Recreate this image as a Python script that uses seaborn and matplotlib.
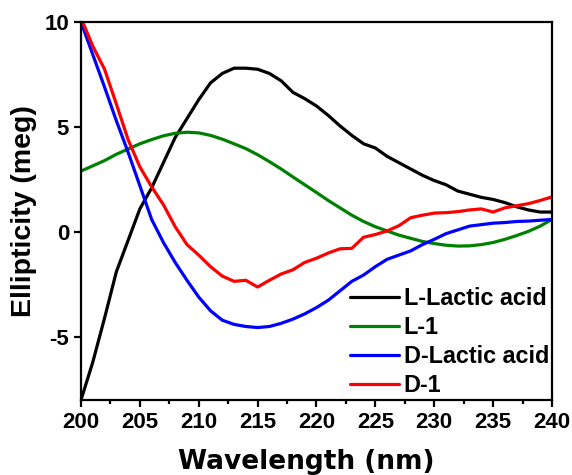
import matplotlib
matplotlib.use("Agg")
import matplotlib.pyplot as plt
from matplotlib.ticker import MultipleLocator
import pandas as pd
import seaborn as sns

wavelength = list(range(200, 241))

l_lactic = [-8.0, -6.2, -4.1, -1.9, -0.4, 1.1, 2.1, 3.3, 4.5, 5.4,
            6.3, 7.1, 7.55, 7.8, 7.8, 7.75, 7.55, 7.2, 6.65, 6.35,
            6.0, 5.55, 5.05, 4.6, 4.2, 4.0, 3.6, 3.3, 3.0, 2.7,
            2.45, 2.25, 1.95, 1.8, 1.65, 1.55, 1.4, 1.2, 1.05, 0.95,
            0.95]
l_1 = [2.9, 3.15, 3.4, 3.7, 3.95, 4.2, 4.4, 4.58, 4.7, 4.75,
       4.72, 4.6, 4.42, 4.2, 3.97, 3.68, 3.35, 3.0, 2.62, 2.25,
       1.88, 1.5, 1.15, 0.8, 0.5, 0.25, 0.05, -0.15, -0.3, -0.45,
       -0.55, -0.63, -0.67, -0.66, -0.6, -0.5, -0.35, -0.17, 0.03, 0.28,
       0.6]
d_lactic = [10.0, 8.45, 6.9, 5.3, 3.8, 2.2, 0.6, -0.5, -1.45, -2.3,
            -3.1, -3.75, -4.2, -4.4, -4.5, -4.55, -4.5, -4.35, -4.15, -3.9,
            -3.6, -3.25, -2.8, -2.35, -2.05, -1.65, -1.3, -1.1, -0.9, -0.6,
            -0.35, -0.08, 0.1, 0.28, 0.35, 0.42, 0.45, 0.5, 0.52, 0.56,
            0.6]
d_1 = [10.2, 8.85, 7.75, 6.1, 4.4, 3.1, 2.15, 1.3, 0.25, -0.6,
       -1.1, -1.65, -2.1, -2.35, -2.3, -2.62, -2.3, -2.0, -1.8, -1.45,
       -1.25, -1.0, -0.8, -0.78, -0.25, -0.12, 0.05, 0.3, 0.68, 0.8,
       0.9, 0.92, 0.97, 1.05, 1.1, 0.95, 1.15, 1.25, 1.35, 1.5,
       1.67]

series_names = ["L-Lactic acid", "L-1", "D-Lactic acid", "D-1"]
series_colors = ["black", "green", "blue", "red"]

df = pd.concat([
    pd.DataFrame({"Wavelength": wavelength, "Ellipticity": vals, "Sample": name})
    for name, vals in zip(series_names, [l_lactic, l_1, d_lactic, d_1])
])

sns.set_style("ticks")
plt.rcParams["font.family"] = ["Liberation Sans", "DejaVu Sans"]
plt.rcParams["font.weight"] = "bold"
plt.rcParams["axes.unicode_minus"] = False
plt.rcParams["text.color"] = "black"
plt.rcParams["axes.labelcolor"] = "black"

fig = plt.figure(figsize=(5.72, 4.75), dpi=100)
ax = fig.add_axes([0.1416, 0.1579, 0.8234, 0.7958])

sns.lineplot(data=df, x="Wavelength", y="Ellipticity", hue="Sample",
             hue_order=series_names, palette=series_colors, linewidth=2.3,
             ax=ax, legend=True)

ax.set_xlim(200, 240)
ax.set_ylim(-8, 10)
ax.xaxis.set_major_locator(MultipleLocator(5))
ax.xaxis.set_minor_locator(MultipleLocator(2.5))
ax.yaxis.set_major_locator(MultipleLocator(5))

for s in ax.spines.values():
    s.set_linewidth(1.6)
    s.set_color("black")
ax.tick_params(which="major", direction="out", length=5, width=1.6,
               labelsize=16, colors="black")
ax.tick_params(which="minor", direction="out", length=3, width=1.6,
               colors="black")
for lab in ax.get_xticklabels() + ax.get_yticklabels():
    lab.set_fontweight("bold")

ax.set_xlabel("Wavelength (nm)", fontsize=19, fontweight="bold",
              family=["DejaVu Sans"], labelpad=12)
ax.xaxis.label.set_x(0.478)
ax.set_ylabel("Ellipticity (meg)", fontsize=20.5, fontweight="bold", labelpad=5)

ax.legend(loc="upper left", bbox_to_anchor=(0.571, 0.2995), frameon=False,
          borderpad=0, borderaxespad=0, handlelength=2.1, handletextpad=0.2,
          labelspacing=0.26, prop={"size": 16.8, "weight": "bold"})

fig.savefig("out.png", dpi=100)
